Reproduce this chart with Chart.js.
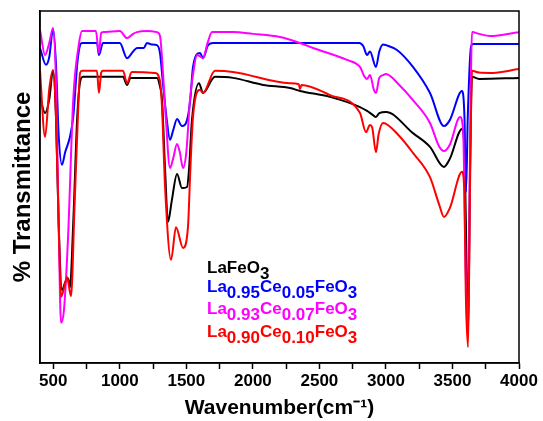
<!DOCTYPE html>
<html>
<head>
<meta charset="utf-8">
<script src="https://cdn.jsdelivr.net/npm/chart.js@4/dist/chart.umd.min.js"></script>
<style>
  html, body { margin: 0; padding: 0; background: #fff; }
  #wrap { position: relative; width: 543px; height: 421px; }
  #legend { position: absolute; left: 0; top: 0; font-family: "Liberation Sans", Arial, sans-serif; font-weight: bold; font-size: 17px; }
  #legend .ln { position: absolute; left: 207px; white-space: nowrap; line-height: 18px; }
  #legend .s { position: relative; top: 6px; }
</style>
</head>
<body>
<div id="wrap">
  <canvas id="c" width="543" height="421"></canvas>
  <div id="legend">
    <div class="ln" style="top:259px;color:#000">LaFeO<span class="s">3</span></div>
    <div class="ln" style="top:278px;color:#0000ff">La<span class="s">0.95</span>Ce<span class="s">0.05</span>FeO<span class="s">3</span></div>
    <div class="ln" style="top:300px;color:#ff00ff">La<span class="s">0.93</span>Ce<span class="s">0.07</span>FeO<span class="s">3</span></div>
    <div class="ln" style="top:323px;color:#ff0000">La<span class="s">0.90</span>Ce<span class="s">0.10</span>FeO<span class="s">3</span></div>
  </div>
</div>
<script>
// Series names
const seriesNames = ["LaFeO3", "La0.95Ce0.05FeO3", "La0.93Ce0.07FeO3", "La0.90Ce0.10FeO3"];
// x tick labels (wavenumber, cm-1)
const xTickLabels = [500, 1000, 1500, 2000, 2500, 3000, 3500, 4000];

// LaFeO3 (black)
const wnBlack = [400, 438, 470, 498, 520, 540, 565, 590, 610, 625, 650, 680, 701, 723, 1024, 1054, 1080, 1279, 1302, 1317, 1340, 1362, 1390, 1430, 1467, 1505, 1520, 1542, 1595, 1625, 1715, 1850, 2076, 2279, 2354, 2579, 2805, 2858, 2900, 2925, 2950, 3000, 3203, 3331, 3436, 3480, 3572, 3592, 3605, 3617, 3632, 3647, 3700, 4000];
const tBlack  = [75.6, 71.0, 75.0, 83.2, 70.0, 40.0, 20.7, 23.0, 24.1, 21.5, 40.0, 70.0, 79.8, 81.3, 81.3, 79.0, 81.0, 81.0, 78.5, 74.7, 55.0, 40.1, 46.0, 53.7, 49.7, 50.0, 55.0, 69.0, 79.5, 76.7, 81.3, 81.0, 79.0, 78.1, 77.3, 75.6, 72.7, 71.6, 70.5, 69.9, 71.0, 71.3, 65.3, 61.4, 55.7, 58.0, 66.5, 58.0, 30.0, 8.0, 55.0, 81.3, 80.7, 81.0];

// La0.95Ce0.05FeO3 (blue)
const wnBlue = [400, 445, 470, 498, 520, 540, 565, 590, 625, 650, 680, 701, 716, 828, 843, 873, 1000, 1054, 1100, 1129, 1180, 1204, 1240, 1279, 1302, 1324, 1350, 1377, 1400, 1430, 1467, 1505, 1530, 1550, 1603, 1625, 1663, 1700, 2800, 2830, 2858, 2880, 2925, 2950, 2978, 3000, 3083, 3203, 3331, 3436, 3480, 3572, 3590, 3602, 3615, 3640, 3654, 4000];
const tBlue  = [89.5, 84.7, 87.0, 94.9, 85.0, 65.0, 56.3, 60.0, 64.2, 70.0, 85.0, 90.3, 90.9, 90.9, 87.5, 90.9, 90.9, 86.6, 88.5, 89.5, 89.5, 90.9, 90.5, 90.3, 88.0, 79.5, 70.0, 63.4, 66.0, 69.3, 67.3, 69.0, 75.0, 84.1, 88.1, 86.6, 90.3, 90.9, 90.9, 90.0, 87.5, 88.5, 84.1, 88.5, 90.5, 90.3, 88.9, 84.1, 76.7, 67.3, 69.0, 77.3, 70.0, 48.6, 70.0, 90.0, 90.6, 90.6];

// La0.93Ce0.07FeO3 (magenta)
const wnMagenta = [400, 438, 470, 498, 520, 540, 558, 580, 610, 650, 690, 716, 820, 843, 860, 873, 1000, 1054, 1100, 1129, 1204, 1279, 1302, 1320, 1345, 1377, 1400, 1430, 1450, 1475, 1500, 1527, 1550, 1580, 1600, 1625, 1660, 1693, 1850, 2000, 2204, 2354, 2452, 2707, 2805, 2840, 2858, 2880, 2910, 2925, 2950, 2978, 3000, 3100, 3203, 3331, 3400, 3436, 3480, 3557, 3580, 3600, 3617, 3632, 3647, 3700, 3782, 4000];
const tMagenta  = [94.6, 87.5, 91.0, 95.2, 80.0, 40.0, 11.4, 15.0, 35.0, 75.0, 90.0, 94.3, 94.3, 88.1, 93.8, 94.0, 94.3, 92.3, 93.5, 94.0, 94.3, 94.0, 92.9, 85.0, 70.0, 55.4, 58.0, 62.2, 60.0, 55.4, 60.0, 74.7, 82.0, 87.5, 87.2, 86.6, 91.0, 94.0, 94.0, 93.5, 92.6, 90.9, 89.5, 86.1, 84.1, 81.3, 80.7, 81.8, 77.5, 76.7, 81.0, 81.8, 82.1, 79.0, 74.7, 68.2, 61.5, 60.2, 62.0, 69.9, 66.0, 25.0, 8.0, 60.0, 94.0, 93.5, 92.9, 94.0];

// La0.90Ce0.10FeO3 (red)
const wnRed = [400, 438, 470, 498, 520, 540, 558, 585, 603, 633, 660, 690, 701, 716, 828, 843, 860, 873, 1024, 1054, 1090, 1264, 1302, 1317, 1340, 1385, 1422, 1475, 1512, 1530, 1550, 1603, 1625, 1715, 1850, 2279, 2345, 2354, 2365, 2579, 2805, 2850, 2880, 2896, 2925, 2945, 2978, 3100, 3203, 3331, 3400, 3436, 3480, 3572, 3590, 3600, 3617, 3632, 3647, 3700, 3782, 4000];
const tRed  = [83.0, 64.2, 78.0, 83.2, 70.0, 40.0, 18.8, 22.0, 24.4, 19.0, 45.0, 75.0, 82.4, 83.0, 83.0, 76.7, 82.5, 83.0, 83.0, 79.5, 82.7, 82.4, 80.0, 72.7, 50.0, 29.3, 38.6, 32.7, 38.6, 55.0, 69.9, 77.6, 76.7, 83.0, 82.7, 79.5, 79.2, 77.8, 79.0, 76.1, 71.0, 65.6, 67.6, 67.0, 59.9, 65.0, 68.2, 64.5, 59.7, 52.8, 45.0, 41.5, 44.0, 54.3, 48.0, 20.0, 4.5, 50.0, 83.0, 82.5, 82.4, 83.5];

const toPts = (xs, ys) => xs.map((x, i) => ({ x: x, y: ys[i] }));

const frame = {
  id: 'frame',
  afterDraw(chart) {
    const a = chart.chartArea, ctx = chart.ctx;
    ctx.save();
    ctx.strokeStyle = '#000';
    ctx.lineWidth = 1.5;
    ctx.strokeRect(a.left, a.top, a.right - a.left, a.bottom - a.top);
    ctx.restore();
  }
};

const mk = (label, xs, ys, color, order) => ({
  label: label, data: toPts(xs, ys), borderColor: color, backgroundColor: color,
  borderWidth: 2, pointRadius: 0, fill: false, cubicInterpolationMode: 'monotone', order: order
});

new Chart(document.getElementById('c'), {
  type: 'line',
  data: {
    datasets: [
      mk(seriesNames[0], wnBlack, tBlack, '#000000', 3),
      mk(seriesNames[1], wnBlue, tBlue, '#0000ff', 2),
      mk(seriesNames[2], wnMagenta, tMagenta, '#ff00ff', 1),
      mk(seriesNames[3], wnRed, tRed, '#ff0000', 0)
    ]
  },
  options: {
    responsive: false,
    animation: false,
    devicePixelRatio: 1,
    layout: { padding: { left: 0, right: 24, top: 11, bottom: 0 } },
    plugins: { legend: { display: false }, tooltip: { enabled: false } },
    scales: {
      x: {
        type: 'linear', min: 400, max: 4000,
        afterFit(s) { s.height = 58; },
        afterBuildTicks(s) {
          const t = [];
          for (let v = 500; v <= 4000; v += 250) t.push({ value: v });
          s.ticks = t;
        },
        ticks: {
          autoSkip: false, maxRotation: 0, padding: 2, color: '#000',
          font: { family: 'Liberation Sans', weight: 'bold', size: 17 },
          callback: (v) => (xTickLabels.includes(v) ? String(v) : '')
        },
        grid: { drawOnChartArea: false, drawTicks: true, tickLength: 6, tickColor: '#000', tickWidth: 1.5 },
        border: { display: true, color: '#000', width: 1.5 },
        title: {
          display: true, text: 'Wavenumber(cm\u207B\u00B9)', color: '#000',
          font: { family: 'Liberation Sans', weight: 'bold', size: 21 },
          padding: { top: 0, bottom: 0 }
        }
      },
      y: {
        min: 0, max: 100,
        afterFit(s) { s.width = 40; },
        ticks: { display: false },
        grid: { display: false, drawTicks: false },
        border: { display: true, color: '#000', width: 1.5 },
        title: {
          display: true, text: '% Transmittance', color: '#000',
          font: { family: 'Liberation Sans', weight: 'bold', size: 24 },
          padding: { top: 9, bottom: 0 }
        }
      }
    }
  },
  plugins: [frame]
});
</script>
</body>
</html>
